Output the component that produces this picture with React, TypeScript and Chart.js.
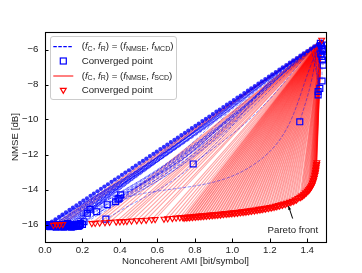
import React, { useEffect, useRef } from 'react';
import { Chart, registerables } from 'chart.js';

Chart.register(...registerables);

// ---------- axis ticks ----------
const xTicks = [0, 0.2, 0.4, 0.6, 0.8, 1.0, 1.2, 1.4];
const xTickLabels = ['0.0', '0.2', '0.4', '0.6', '0.8', '1.0', '1.2', '1.4'];
const yTicks = [-16, -14, -12, -10, -8, -6];
const yTickLabels = ['−16', '−14', '−12', '−10', '−8', '−6'];

const xTitle = 'Noncoherent AMI [bit/symbol]';
const yTitle = 'NMSE [dB]';
const legendLabels = ['Converged point', 'Converged point'];
const annotationText = 'Pareto front';
const annotationTextPos = [1.323, -16.32];
const annotationArrow = [1.322, -15.66, 1.300, -14.95];

// ---------- initial points (diagonal) ----------
const initX = [0.000, 0.019, 0.037, 0.056, 0.075, 0.093, 0.112, 0.131, 0.149, 0.168, 0.187, 0.205, 0.224, 0.243, 0.261, 0.280, 0.299, 0.317, 0.336, 0.355, 0.373, 0.392, 0.411, 0.429, 0.448, 0.467, 0.485, 0.504, 0.523, 0.541, 0.560, 0.579, 0.597, 0.616, 0.635, 0.653, 0.672, 0.691, 0.709, 0.728, 0.747, 0.765, 0.784, 0.803, 0.821, 0.840, 0.859, 0.877, 0.896, 0.915, 0.933, 0.952, 0.971, 0.989, 1.008, 1.027, 1.045, 1.064, 1.083, 1.101, 1.120, 1.139, 1.157, 1.176, 1.195, 1.213, 1.232, 1.251, 1.269, 1.288, 1.307, 1.325, 1.344, 1.363, 1.381, 1.400, 1.419, 1.437, 1.456, 1.475];
const initY = [-16.10, -15.96, -15.84, -15.70, -15.56, -15.43, -15.30, -15.16, -15.03, -14.90, -14.76, -14.63, -14.50, -14.36, -14.23, -14.10, -13.96, -13.83, -13.70, -13.56, -13.43, -13.30, -13.16, -13.03, -12.90, -12.76, -12.63, -12.49, -12.36, -12.23, -12.09, -11.96, -11.83, -11.69, -11.56, -11.43, -11.29, -11.16, -11.03, -10.89, -10.76, -10.63, -10.49, -10.36, -10.23, -10.09, -9.96, -9.83, -9.69, -9.55, -9.43, -9.29, -9.15, -9.03, -8.89, -8.75, -8.63, -8.49, -8.35, -8.22, -8.09, -7.95, -7.82, -7.69, -7.55, -7.42, -7.29, -7.15, -7.02, -6.89, -6.75, -6.62, -6.49, -6.35, -6.22, -6.09, -5.95, -5.82, -5.69, -5.55];

// ---------- (fNMSE, fMCD) trajectories: start index, bend point, converged point ----------
const blueStartIdx = [12, 16, 20, 24, 28, 32, 36, 40, 44, 48, 52, 56, 60, 64, 68, 71, 73, 75, 77, 79, 78, 76, 74, 72, 2, 5, 8, 10,
  14, 18, 22, 26, 30, 34, 38, 42, 46, 50, 54, 58, 61, 63, 66, 70, 72, 74, 76, 78, 79, 79, 77, 75, 78,
  75, 73, 71, 69, 67, 65, 62, 59, 56, 79, 77, 78,
  78, 77, 76, 79, 79, 78, 79, 78, 79, 78, 77, 79, 78, 79];
const blueMidX = [0.207, 0.235, 0.27, 0.30, 0.33, 0.365, 0.40, 0.43, 0.46, 0.49, 0.53, 0.56, 0.59, 0.62, 0.655, 0.68, 0.69, 0.70, 0.72, 0.83, 0.80, 0.77, 0.78, 0.72, 0.03, 0.075, 0.125, 0.19,
  0.223, 0.256, 0.288, 0.32, 0.353, 0.385, 0.417, 0.45, 0.482, 0.514, 0.547, 0.579, 0.602, 0.616, 0.639, 0.671, 0.685, 0.698, 0.712, 0.758, 0.753, 0.793, 0.794, 0.745, 0.828,
  0.80, 0.79, 0.78, 0.78, 0.79, 0.77, 0.77, 0.75, 0.72, 1.15, 1.12, 1.42,
  1.46, 1.45, 1.445, 1.478, 1.48, 1.47, 1.473, 1.466, 1.478, 1.472, 1.455, 1.48, 1.47, 1.476];
const blueMidY = [-15.25, -15.05, -14.85, -14.65, -14.35, -14.15, -13.85, -13.6, -13.3, -13.15, -12.85, -12.6, -12.3, -12.05, -11.75, -11.6, -11.5, -11.45, -11.4, -11.3, -11.5, -11.7, -12.2, -12.3, -15.97, -15.8, -15.6, -15.4,
  -15.24, -15.05, -14.78, -14.62, -14.32, -14.08, -13.87, -13.57, -13.33, -13.12, -12.82, -12.58, -12.43, -12.27, -12.1, -11.88, -11.77, -11.61, -11.53, -11.27, -11.08, -11.43, -11.64, -11.85, -11.85,
  -11.9, -11.85, -11.9, -12.1, -12.6, -11.95, -12.0, -11.95, -11.95, -12.3, -9.7, -7.9,
  -7.1, -7.1, -7.1, -6.7, -6.2, -6.1, -5.6, -5.75, -5.75, -5.85, -5.95, -5.65, -5.85, -5.62];
const blueEndX = [0.19, 0.17, 0.16, 0.15, 0.14, 0.13, 0.12, 0.11, 0.10, 0.09, 0.08, 0.07, 0.06, 0.05, 0.04, 0.03, 0.02, 0.01, 0.0, 0.18, 0.14, 0.12, 0.165, 0.10, 0.02, 0.06, 0.10, 0.185,
  0.185, 0.175, 0.165, 0.155, 0.145, 0.135, 0.125, 0.115, 0.105, 0.095, 0.085, 0.075, 0.065, 0.055, 0.045, 0.035, 0.025, 0.015, 0.005, 0.06, 0.03, 0.11, 0.15, 0.09, 0.2,
  0.208, 0.226, 0.24, 0.276, 0.325, 0.332, 0.377, 0.396, 0.404, 0.39, 0.791, 1.36,
  1.458, 1.458, 1.467, 1.479, 1.485, 1.481, 1.47, 1.476, 1.48, 1.485, 1.472, 1.478, 1.488, 1.483];
const blueEndY = [-15.95, -16.0, -16.08, -16.12, -16.0, -16.1, -16.05, -16.1, -16.0, -16.12, -16.05, -16.1, -16.0, -16.1, -16.05, -16.12, -16.0, -16.1, -16.05, -16.1, -16.15, -15.95, -16.05, -16.15, -16.1, -16.15, -16.1, -16.0,
  -16.05, -16.1, -16.0, -16.1, -16.05, -16.0, -16.1, -16.05, -16.0, -16.1, -16.05, -16.0, -16.1, -16.05, -16.0, -16.1, -16.05, -16.0, -16.1, -16.05, -16.0, -16.1, -16.05, -16.0, -16.0,
  -15.84, -15.36, -15.13, -15.27, -15.69, -14.87, -14.7, -14.5, -14.31, -14.55, -12.54, -10.13,
  -8.6, -8.4, -8.22, -7.8, -6.89, -6.6, -5.65, -5.8, -5.95, -6.1, -6.25, -6.4, -5.75, -6.0];

// ---------- (fNMSE, fSCD) trajectories ----------
const redOrigin = [1.475, -5.5];
const paretoX = [0.045, 0.062, 0.078, 0.095,
  0.25, 0.268, 0.292, 0.32, 0.345, 0.38, 0.40, 0.42, 0.437, 0.462, 0.49, 0.515, 0.54, 0.57, 0.588,
  0.635, 0.655, 0.68, 0.70, 0.72, 0.735, 0.75, 0.765, 0.78, 0.795, 0.81, 0.825, 0.84, 0.855, 0.87, 0.885, 0.90, 0.915, 0.93, 0.945, 0.96, 0.975, 0.99, 1.005, 1.02, 1.035, 1.05, 1.065, 1.08, 1.095, 1.11, 1.125, 1.14, 1.155, 1.17, 1.185, 1.20, 1.215, 1.23, 1.245, 1.26, 1.275, 1.29, 1.305, 1.32, 1.335, 1.35,
  1.36, 1.37, 1.38, 1.39, 1.40, 1.407, 1.413, 1.418, 1.423, 1.428, 1.432, 1.436, 1.44, 1.443, 1.445, 1.447, 1.449, 1.477];
const paretoY = [-16.03, -16.0, -16.02, -15.99,
  -15.93, -15.92, -15.9, -15.88, -15.86, -15.84, -15.83, -15.82, -15.81, -15.79, -15.77, -15.76, -15.74, -15.72, -15.7,
  -15.68, -15.66, -15.64, -15.62, -15.6, -15.59, -15.57, -15.56, -15.55, -15.53, -15.52, -15.5, -15.49, -15.47, -15.46, -15.44, -15.43, -15.41, -15.4, -15.38, -15.36, -15.35, -15.33, -15.31, -15.3, -15.28, -15.26, -15.24, -15.22, -15.2, -15.17, -15.15, -15.12, -15.1, -15.07, -15.04, -15.01, -14.98, -14.94, -14.9, -14.86, -14.82, -14.77, -14.71, -14.65, -14.58, -14.5,
  -14.43, -14.36, -14.28, -14.19, -14.08, -14.0, -13.92, -13.84, -13.74, -13.63, -13.5, -13.36, -13.2, -13.05, -12.9, -12.75, -12.6, -5.45];
const paretoDenseX = [0.7425, 0.7575, 0.7725, 0.7875, 0.8025, 0.8175, 0.8325, 0.8475, 0.8625, 0.8775, 0.8925, 0.9075, 0.9225, 0.9375, 0.9525, 0.9675, 0.9825, 0.9975, 1.0125, 1.0275, 1.0425, 1.0575, 1.0725, 1.0875, 1.1025, 1.1175, 1.1325, 1.1475, 1.1625, 1.1775, 1.1925, 1.2075, 1.2225, 1.2375, 1.2525, 1.2675, 1.2825, 1.2975, 1.3125, 1.3275, 1.3425,
  1.365, 1.375, 1.385, 1.395, 1.404, 1.41, 1.416, 1.421, 1.426, 1.43, 1.434, 1.438, 1.442, 1.444, 1.446, 1.448, 1.45, 1.451];
const paretoDenseY = [-15.63, -15.615, -15.605, -15.59, -15.575, -15.56, -15.545, -15.53, -15.515, -15.5, -15.485, -15.47, -15.455, -15.44, -15.42, -15.405, -15.39, -15.37, -15.355, -15.34, -15.32, -15.3, -15.28, -15.26, -15.235, -15.21, -15.185, -15.16, -15.135, -15.105, -15.075, -15.045, -15.01, -14.97, -14.93, -14.89, -14.845, -14.79, -14.73, -14.665, -14.59,
  -14.45, -14.37, -14.28, -14.18, -14.09, -14.01, -13.93, -13.84, -13.74, -13.62, -13.48, -13.33, -13.15, -13.0, -12.85, -12.7, -12.55, -12.45];

const FONT = '"Liberation Sans", Arial, Helvetica, sans-serif';
const FS = 9.7;

type Part = { t: string; it?: boolean; sub?: boolean };
const legendRichLine = (c: string, r: string, a: string, b: string): Part[] => [
  { t: '(' }, { t: 'f', it: true }, { t: c, sub: true }, { t: ', ' }, { t: 'f', it: true }, { t: r, sub: true },
  { t: ') = (' }, { t: 'f', it: true }, { t: a, sub: true }, { t: ', ' }, { t: 'f', it: true }, { t: b, sub: true }, { t: ')' },
];

function drawRich(ctx: CanvasRenderingContext2D, parts: Part[], x: number, y: number) {
  let cx = x;
  for (const p of parts) {
    const size = p.sub ? 7 : FS;
    ctx.font = `${p.it ? 'italic ' : ''}${size}px ${FONT}`;
    ctx.fillText(p.t, cx, p.sub ? y + 2.3 : y);
    cx += ctx.measureText(p.t).width;
  }
}

const framePlugin = {
  id: 'frameTicks',
  afterDatasetsDraw(chart: any) {
    const { ctx, chartArea: ca, scales } = chart;
    ctx.save();
    ctx.strokeStyle = '#000';
    ctx.lineWidth = 1;
    ctx.beginPath();
    xTicks.forEach((v) => {
      const px = Math.round(scales.x.getPixelForValue(v)) + 0.5;
      ctx.moveTo(px, ca.bottom);
      ctx.lineTo(px, ca.bottom - 3.5);
    });
    yTicks.forEach((v) => {
      const py = Math.round(scales.y.getPixelForValue(v)) + 0.5;
      ctx.moveTo(ca.left, py);
      ctx.lineTo(ca.left + 3.5, py);
    });
    ctx.stroke();
    ctx.lineWidth = 1.1;
    ctx.strokeRect(Math.round(ca.left) + 0.5, Math.round(ca.top) + 0.5, Math.round(ca.right - ca.left), Math.round(ca.bottom - ca.top));
    ctx.restore();
  },
  afterDraw(chart: any) {
    const { ctx, chartArea: ca, scales } = chart;
    ctx.save();
    const bx = ca.left + 5.5, by = ca.top + 4.5, bw = 126, bh = 63, r = 2.5;
    ctx.beginPath();
    ctx.moveTo(bx + r, by);
    ctx.lineTo(bx + bw - r, by);
    ctx.quadraticCurveTo(bx + bw, by, bx + bw, by + r);
    ctx.lineTo(bx + bw, by + bh - r);
    ctx.quadraticCurveTo(bx + bw, by + bh, bx + bw - r, by + bh);
    ctx.lineTo(bx + r, by + bh);
    ctx.quadraticCurveTo(bx, by + bh, bx, by + bh - r);
    ctx.lineTo(bx, by + r);
    ctx.quadraticCurveTo(bx, by, bx + r, by);
    ctx.closePath();
    ctx.fillStyle = 'rgba(255,255,255,0.85)';
    ctx.fill();
    ctx.strokeStyle = '#cccccc';
    ctx.lineWidth = 1;
    ctx.stroke();

    const rows = [ca.top + 14.7, ca.top + 29, ca.top + 44, ca.top + 58];
    const lx0 = ca.left + 8.3, lx1 = ca.left + 28.3, mx = ca.left + 18.3, tx = ca.left + 36.7;
    ctx.strokeStyle = '#0000ff';
    ctx.lineWidth = 1.2;
    ctx.setLineDash([3.5, 1.5]);
    ctx.beginPath();
    ctx.moveTo(lx0, rows[0]);
    ctx.lineTo(lx1, rows[0]);
    ctx.stroke();
    ctx.setLineDash([]);
    ctx.lineWidth = 1.2;
    ctx.strokeRect(mx - 3, rows[1] - 3, 6, 6);
    ctx.strokeStyle = '#ff0000';
    ctx.lineWidth = 1;
    ctx.beginPath();
    ctx.moveTo(lx0, rows[2]);
    ctx.lineTo(lx1, rows[2]);
    ctx.stroke();
    ctx.lineWidth = 1.2;
    ctx.beginPath();
    ctx.moveTo(mx - 2.9, rows[3] - 1.7);
    ctx.lineTo(mx + 2.9, rows[3] - 1.7);
    ctx.lineTo(mx, rows[3] + 3.3);
    ctx.closePath();
    ctx.stroke();

    ctx.fillStyle = '#222';
    ctx.textBaseline = 'middle';
    ctx.textAlign = 'left';
    drawRich(ctx, legendRichLine('C', 'R', 'NMSE', 'MCD'), tx, rows[0]);
    ctx.font = `${FS}px ${FONT}`;
    ctx.fillText(legendLabels[0], tx, rows[1]);
    drawRich(ctx, legendRichLine('C', 'R', 'NMSE', 'SCD'), tx, rows[2]);
    ctx.font = `${FS}px ${FONT}`;
    ctx.fillText(legendLabels[1], tx, rows[3]);

    const axp = scales.x.getPixelForValue(annotationArrow[0]);
    const ayp = scales.y.getPixelForValue(annotationArrow[1]);
    const hxp = scales.x.getPixelForValue(annotationArrow[2]);
    const hyp = scales.y.getPixelForValue(annotationArrow[3]);
    ctx.strokeStyle = '#000';
    ctx.fillStyle = '#000';
    ctx.lineWidth = 1;
    ctx.beginPath();
    ctx.moveTo(axp, ayp);
    ctx.lineTo(hxp, hyp);
    ctx.stroke();
    const ang = Math.atan2(hyp - ayp, hxp - axp);
    ctx.beginPath();
    ctx.moveTo(hxp, hyp);
    ctx.lineTo(hxp - 4 * Math.cos(ang - 0.4), hyp - 4 * Math.sin(ang - 0.4));
    ctx.lineTo(hxp - 4 * Math.cos(ang + 0.4), hyp - 4 * Math.sin(ang + 0.4));
    ctx.closePath();
    ctx.fill();
    ctx.font = `${FS}px ${FONT}`;
    ctx.textAlign = 'center';
    ctx.fillStyle = '#222';
    ctx.fillText(annotationText, scales.x.getPixelForValue(annotationTextPos[0]), scales.y.getPixelForValue(annotationTextPos[1]));
    ctx.restore();
  },
};

export default function App() {
  const ref = useRef<HTMLCanvasElement | null>(null);

  useEffect(() => {
    if (!ref.current) return;
    const datasets: any[] = [];
    const allParetoX = [...paretoX, ...paretoDenseX];
    const allParetoY = [...paretoY, ...paretoDenseY];

    datasets.push({
      data: allParetoX.map((x, i) => ({ x, y: allParetoY[i] })),
      pointStyle: 'triangle',
      pointRotation: 180,
      pointRadius: 3.4,
      pointBorderColor: '#ff0000',
      pointBackgroundColor: 'rgba(0,0,0,0)',
      pointBorderWidth: 1.1,
      showLine: false,
      order: 1,
    });
    datasets.push({
      data: blueEndX.map((x, i) => ({ x, y: blueEndY[i] })),
      pointStyle: 'rect',
      pointRadius: 4.2,
      pointBorderColor: '#0000ff',
      pointBackgroundColor: 'rgba(0,0,0,0)',
      pointBorderWidth: 1.2,
      showLine: false,
      order: 2,
    });
    datasets.push({
      data: initX.map((x, i) => ({ x, y: initY[i] })),
      pointStyle: 'circle',
      pointRadius: 2.1,
      pointBorderWidth: 0,
      pointBackgroundColor: 'rgba(0,0,255,0.8)',
      showLine: false,
      order: 3,
    });
    blueStartIdx.forEach((s, i) => {
      datasets.push({
        data: [
          { x: initX[s], y: initY[s] },
          { x: blueMidX[i], y: blueMidY[i] },
          { x: blueEndX[i], y: blueEndY[i] },
        ],
        showLine: true,
        tension: 0.4,
        borderColor: 'rgba(0,0,255,0.42)',
        borderWidth: 1,
        borderDash: [3.5, 1.5],
        pointRadius: 0,
        order: 4,
      });
    });
    allParetoX.forEach((x, i) => {
      datasets.push({
        data: [
          { x: redOrigin[0], y: redOrigin[1] },
          { x, y: allParetoY[i] },
        ],
        showLine: true,
        borderColor: 'rgba(255,0,0,0.36)',
        borderWidth: 1.1,
        pointRadius: 0,
        order: 5,
      });
    });

    const chart = new Chart(ref.current, {
      type: 'scatter',
      data: { datasets },
      options: {
        animation: false,
        responsive: false,
        events: [],
        layout: { padding: { left: 0, right: 36, top: 32, bottom: 0 } },
        plugins: { legend: { display: false }, tooltip: { enabled: false } },
        scales: {
          x: {
            type: 'linear',
            min: 0,
            max: 1.5,
            afterFit: (s: any) => { s.height = 31; },
            afterBuildTicks: (s: any) => { s.ticks = xTicks.map((v) => ({ value: v })); },
            grid: { display: false, drawTicks: false },
            border: { display: false },
            ticks: {
              padding: 3,
              color: '#222',
              font: { family: FONT, size: FS },
              maxRotation: 0,
              autoSkip: false,
              callback: (_v: any, i: number) => xTickLabels[i],
            },
            title: { display: true, text: xTitle, color: '#222', font: { family: FONT, size: FS }, padding: { top: 0, bottom: 5.5 } },
          },
          y: {
            type: 'linear',
            min: -17,
            max: -5,
            afterFit: (s: any) => { s.width = 45; },
            afterBuildTicks: (s: any) => { s.ticks = yTicks.map((v) => ({ value: v })); },
            grid: { display: false, drawTicks: false },
            border: { display: false },
            ticks: {
              padding: 6.5,
              color: '#222',
              font: { family: FONT, size: FS },
              autoSkip: false,
              callback: (_v: any, i: number) => yTickLabels[i],
            },
            title: { display: true, text: yTitle, color: '#222', font: { family: FONT, size: FS }, padding: { top: 10, bottom: 0 } },
          },
        },
      },
      plugins: [framePlugin],
    } as any);
    return () => chart.destroy();
  }, []);

  return (
    <div style={{ position: 'absolute', left: 0, top: 0, width: 362, height: 273 }}>
      <canvas ref={ref} width={362} height={273} style={{ display: 'block', width: 362, height: 273 }} />
    </div>
  );
}
